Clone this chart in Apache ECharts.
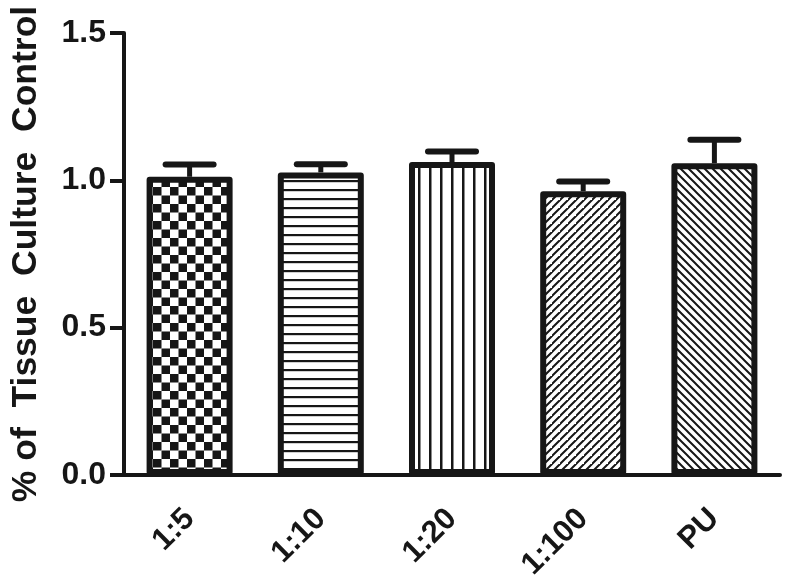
<!DOCTYPE html>
<html>
<head>
<meta charset="utf-8">
<script src="https://cdn.jsdelivr.net/npm/echarts@6/dist/echarts.min.js"></script>
<style>
html,body{margin:0;padding:0;background:#fff;}
#chart{width:786px;height:584px;}
</style>
</head>
<body>
<div id="chart"></div>
<script>
// Data
const categories = ['1:5', '1:10', '1:20', '1:100', 'PU'];
const means = [1.012, 1.027, 1.062, 0.963, 1.058];
const errors = [0.042, 0.028, 0.036, 0.033, 0.080];
const yTicks = [0, 0.5, 1.0, 1.5];

const INK = '#161616';

function makeCanvas(w, h, draw) {
  const c = document.createElement('canvas');
  c.width = w; c.height = h;
  const ctx = c.getContext('2d');
  ctx.fillStyle = '#fff';
  ctx.fillRect(0, 0, w, h);
  ctx.fillStyle = INK;
  ctx.strokeStyle = INK;
  draw(ctx, w, h);
  return c;
}
const patChecker = makeCanvas(17, 17, (ctx) => {
  ctx.fillRect(0, 0, 8.5, 8.5);
  ctx.fillRect(8.5, 8.5, 8.5, 8.5);
});
const patHoriz = makeCanvas(9, 9, (ctx) => {
  ctx.fillRect(0, 0, 9, 2.2);
});
const patVert = makeCanvas(11, 11, (ctx) => {
  ctx.fillRect(0, 0, 2.5, 11);
});
function diag(s, up) {
  return makeCanvas(s, s, (ctx) => {
    ctx.lineWidth = 2;
    ctx.beginPath();
    if (up) {
      ctx.moveTo(-1, s + 1); ctx.lineTo(s + 1, -1);
      ctx.moveTo(-1 - s, s + 1); ctx.lineTo(1, -1);
      ctx.moveTo(s - 1, 2 * s + 1); ctx.lineTo(2 * s + 1, s - 1);
    } else {
      ctx.moveTo(-1, -1); ctx.lineTo(s + 1, s + 1);
      ctx.moveTo(-1 - s, -1); ctx.lineTo(1, s + 1);
      ctx.moveTo(s - 1, -1); ctx.lineTo(2 * s + 1, s + 1);
    }
    ctx.stroke();
  });
}
const patUp = diag(8, true);
const patDown = diag(8, false);
const patterns = [patChecker, patHoriz, patVert, patUp, patDown];

const chart = echarts.init(document.getElementById('chart'));
const FONT = '"Liberation Sans", Arial, Helvetica, sans-serif';

chart.setOption({
  animation: false,
  backgroundColor: '#fff',
  grid: { left: 117, right: 6, top: 33, bottom: 109, containLabel: false },
  xAxis: {
    type: 'category',
    data: categories,
    axisLine: { lineStyle: { color: INK, width: 4 } },
    axisTick: { alignWithLabel: true, length: 14, lineStyle: { color: INK, width: 4 } },
    axisLabel: {
      rotate: 45, margin: 39, color: INK,
      fontFamily: FONT, fontWeight: 'bold', fontSize: 31
    }
  },
  yAxis: {
    type: 'value',
    min: 0, max: 1.5, interval: 0.5,
    name: '% of  Tissue  Culture  Control',
    nameLocation: 'middle',
    nameGap: 80,
    nameTextStyle: { color: INK, fontFamily: FONT, fontWeight: 'bold', fontSize: 35.5 },
    axisLine: { show: true, lineStyle: { color: INK, width: 4 } },
    axisTick: { show: true, length: 14, lineStyle: { color: INK, width: 4 } },
    splitLine: { show: false },
    axisLabel: {
      margin: 18, color: INK, fontFamily: FONT, fontWeight: 'bold', fontSize: 32,
      formatter: (v) => v.toFixed(1)
    }
  },
  series: [
    {
      type: 'bar',
      barWidth: 86,
      data: means.map((v, i) => ({
        value: v,
        itemStyle: {
          color: { image: patterns[i], repeat: 'repeat' },
          borderColor: INK, borderWidth: 6, borderJoin: 'round'
        }
      })),
      z: 2
    },
    {
      type: 'custom',
      z: 3,
      data: means.map((v, i) => [i, v, v + errors[i]]),
      renderItem: (params, api) => {
        const base = api.coord([api.value(0), api.value(1)]);
        const top = api.coord([api.value(0), api.value(2)]);
        const half = 24;
        return {
          type: 'group',
          children: [
            { type: 'line', shape: { x1: base[0], y1: base[1], x2: top[0], y2: top[1] },
              style: { stroke: INK, lineWidth: 5 } },
            { type: 'line', shape: { x1: top[0] - half, y1: top[1], x2: top[0] + half, y2: top[1] },
              style: { stroke: INK, lineWidth: 6, lineCap: 'round' } }
          ]
        };
      }
    }
  ]
});
</script>
</body>
</html>
